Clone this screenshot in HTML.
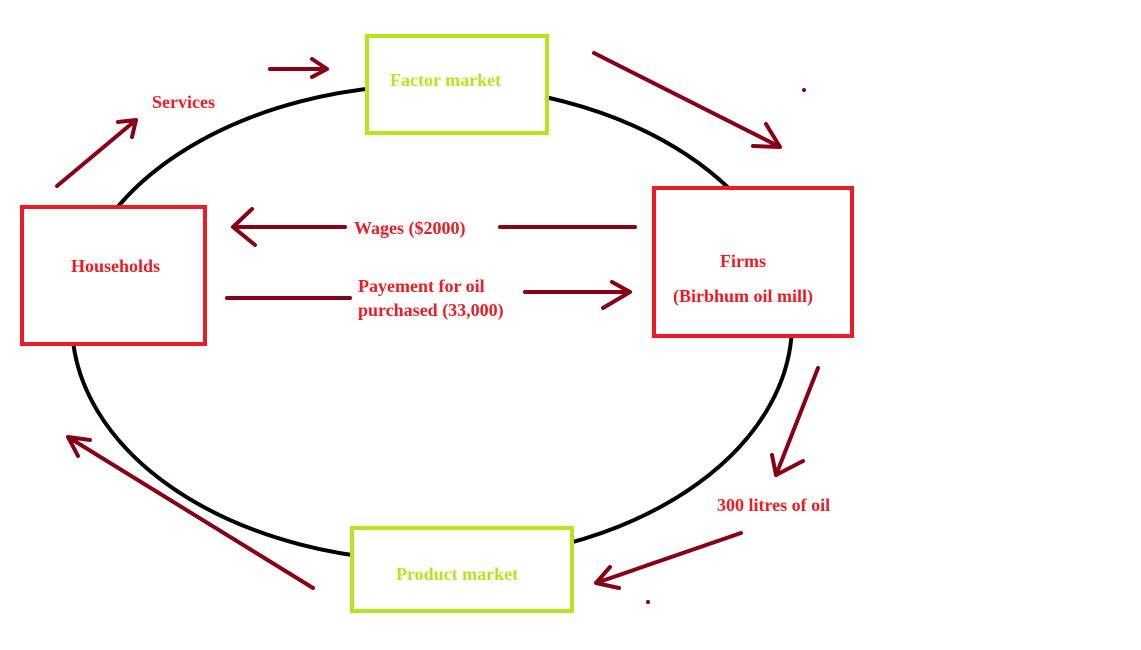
<!DOCTYPE html>
<html><head><style>
html,body{margin:0;padding:0;background:#fff;}
svg{display:block;}
text{font-family:"Liberation Serif",serif;font-weight:bold;font-size:18px;}
</style></head><body>
<svg width="1141" height="650" viewBox="0 0 1141 650">
<rect width="1141" height="650" fill="#fff"/>
<ellipse cx="432" cy="323" rx="360" ry="238" fill="none" stroke="#000" stroke-width="4"/>
<g fill="#fff" stroke-width="4">
<rect x="367" y="36" width="180" height="97" stroke="#b5e61d"/>
<rect x="22" y="207" width="183" height="137" stroke="#ed1c24"/>
<rect x="654" y="188" width="198" height="148" stroke="#ed1c24"/>
<rect x="352" y="528" width="220" height="83" stroke="#b5e61d"/>
</g>
<g fill="#ed1c24">
<text x="152" y="108">Services</text>
<text x="71" y="272">Households</text>
<text x="354" y="234">Wages ($2000)</text>
<text x="358" y="292">Payement for oil</text>
<text x="358" y="316">purchased (33,000)</text>
<text x="720" y="267">Firms</text>
<text x="673" y="302">(Birbhum oil mill)</text>
<text x="717" y="511">300 litres of oil</text>
</g>
<g fill="#b5e61d">
<text x="390" y="86">Factor market</text>
<text x="396" y="580">Product market</text>
</g>
<g stroke="#880015" stroke-width="4" stroke-linecap="round" stroke-linejoin="round" fill="none">
<path d="M270 69 H327 M312 59 L327 69 L312 77"/>
<path d="M57 186 L136 120 M118 122 L136 120 L132 137"/>
<path d="M594 53 L780 147 M766 124 L780 147 L753 146"/>
<path d="M500 227 H635"/>
<path d="M345 227 H233 M252 209 L233 227 L255 245"/>
<path d="M227 298 H350"/>
<path d="M525 292 H630 M612 282 L630 292 L603 308"/>
<path d="M818 368 L776 475 M772 455 L776 475 L803 461"/>
<path d="M741 533 L596 583 M610 567 L596 583 L619 588"/>
<path d="M313 588 L68 437 M78 456 L68 437 L90 440"/>
</g>
<circle cx="804" cy="90" r="2" fill="#880015"/>
<circle cx="648" cy="602" r="2" fill="#880015"/>
</svg>
</body></html>
